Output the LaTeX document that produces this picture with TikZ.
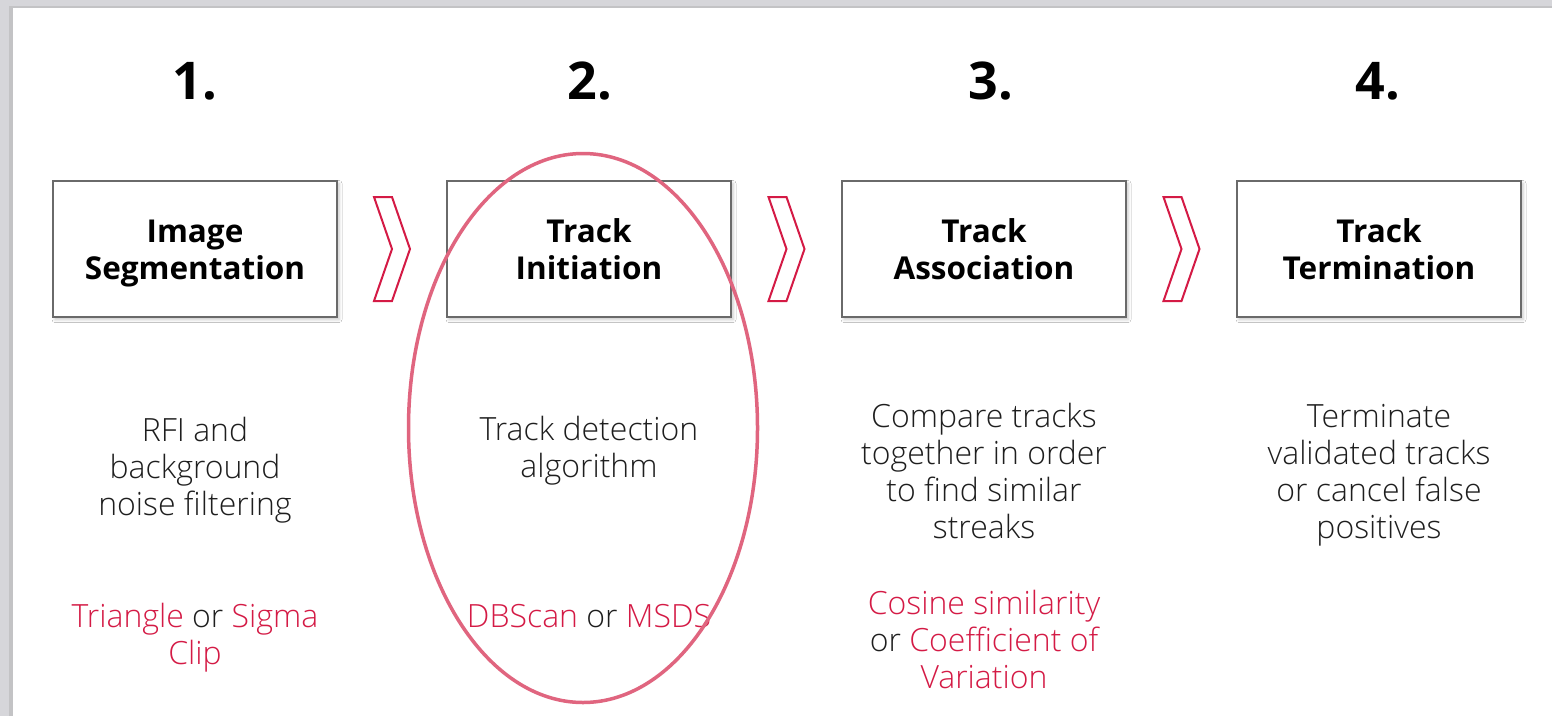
\documentclass[tikz,border=0pt]{standalone}
\usepackage{fontspec}
\IfFontExistsTF{Open Sans Light}
  {\setmainfont{Open Sans Light}[BoldFont=Open Sans Bold]}
  {\setmainfont{Open Sans}}
\newfontfamily\numfont{Open Sans}
\usetikzlibrary{shapes.geometric,shadows.blur,calc}
\definecolor{slidegray}{HTML}{D6D6DA}
\definecolor{accent}{HTML}{D41A45}
\definecolor{ringcol}{HTML}{E0657F}
\definecolor{boxedge}{HTML}{6A6A6A}
\definecolor{bodytext}{HTML}{1E1E1E}
\tikzset{
  stepnum/.style={font=\numfont\bfseries\fontsize{52}{60}\selectfont, text=black, inner sep=0pt},
  stepbox/.style={draw=boxedge, line width=1.8pt, fill=white, minimum width=284pt, minimum height=136pt,
    align=center, font=\bfseries\fontsize{31.5}{37}\selectfont, text=black,
    blur shadow={shadow xshift=2pt, shadow yshift=-2.5pt, shadow blur radius=3pt, shadow opacity=22}},
  desc/.style={align=center, font=\fontsize{32}{37}\selectfont, text=bodytext, inner sep=0pt},
  method/.style={desc},
  chevron/.pic={\draw[accent, line width=2pt, line join=miter]
     (-18,-52) -- (0,-52) -- (18,0) -- (0,52) -- (-18,52) -- (0,0) -- cycle;},
  ring/.style={ellipse, draw=ringcol, line width=3.5pt, minimum width=349pt, minimum height=549pt, inner sep=0pt}
}
\newcommand{\hl}[1]{\textcolor{accent}{#1}}
% fixed line extents so every two-line title sits at the same height
\newcommand{\topgap}{\rule{0pt}{32pt}}
\newcommand{\botgap}{\rule[-7.6pt]{0pt}{7.6pt}}
\newcommand{\steptitle}[2]{\topgap #1\\#2\botgap}
\begin{document}
\begin{tikzpicture}[x=1pt, y=-1pt]
% slide backdrop
\fill[slidegray] (0,0) rectangle (1552,716);
\fill[black!30, opacity=0.5] (9,6) rectangle (1552,716);
\fill[white] (13,8) rectangle (1552,716);
\useasboundingbox (0,0) rectangle (1552,716);

% step numbers
\node[stepnum] (n1) at (195,81) {1.};
\node[stepnum] (n2) at (590,81) {2.};
\node[stepnum] (n3) at (991,81) {3.};
\node[stepnum] (n4) at (1378,81) {4.};

% step boxes
\node[stepbox] (b1) at (195,249) {\steptitle{Image}{Segmentation}};
\node[stepbox] (b2) at (589,249) {\steptitle{Track}{Initiation}};
\node[stepbox] (b3) at (984,249) {\steptitle{Track}{Association}};
\node[stepbox] (b4) at (1379,249) {\steptitle{Track}{Termination}};

% chevrons between steps
\pic at ($(b1.east)!0.5!(b2.west)$) {chevron};
\pic at ($(b2.east)!0.5!(b3.west)$) {chevron};
\pic at ($(b3.east)!0.5!(b4.west)$) {chevron};

% descriptions
\node[desc] (d1) at (195,470.5) {RFI and\\background\\noise filtering};
\node[desc] (d2) at (589,451) {Track detection\\algorithm};
\node[desc] (d3) at (984,470.5) {Compare tracks\\together in order\\to find similar\\streaks};
\node[desc] (d4) at (1379,475) {Terminate\\validated tracks\\or cancel false\\positives};

% methods
\node[method] (m1) at (195,637.5) {\hl{Triangle} or \hl{Sigma}\\\hl{Clip}};
\node[method] (m2) at (589,616) {\hl{DBScan} or \hl{MSDS}};
\node[method] (m3) at (984,639) {\hl{Cosine similarity}\\or \hl{Coefficient of}\\\hl{Variation}};

% highlight ring around step 2
\node[ring] (hlring) at (583,428) {};
\end{tikzpicture}
\end{document}
